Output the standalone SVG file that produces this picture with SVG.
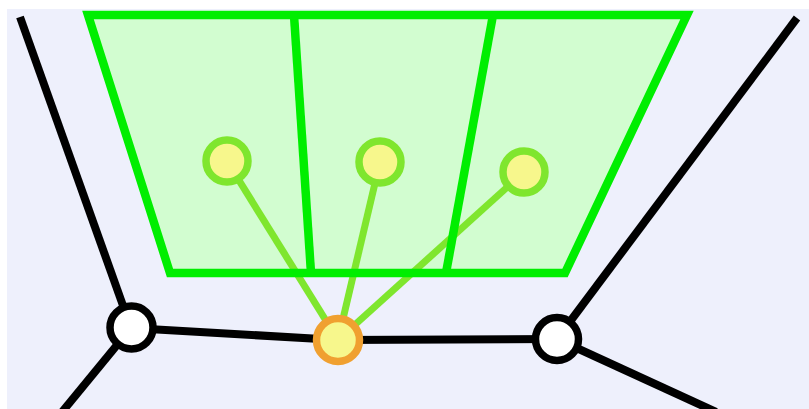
<svg xmlns="http://www.w3.org/2000/svg" width="809" height="409" viewBox="0 0 809 409">
  <style>
    .edge { stroke: #000; stroke-width: 8; fill: none; }
    .spoke { stroke: #7fe62e; stroke-width: 7; fill: none; }
    .zone { stroke: #00ee00; stroke-width: 8.5; fill: none; stroke-linejoin: miter; }
    .zone-fill { fill: #d2fdd0; stroke: none; }
    .hub { fill: #fff; stroke: #000; stroke-width: 7.5; }
    .leaf { fill: #f7f78c; stroke: #7fe62e; stroke-width: 7.5; }
    .root { fill: #f7f78c; stroke: #f0a030; stroke-width: 7.5; }
  </style>
  <rect x="0" y="0" width="809" height="409" fill="#ffffff"/>
  <rect x="7" y="9" width="802" height="400" fill="#eef0fc"/>

  <!-- shaded region -->
  <polygon class="zone-fill" points="88,15 687,15 565,273 170,273"/>

  <g id="connectors">
    <line class="edge" x1="20" y1="17" x2="131" y2="328"/>
    <line class="edge" x1="131" y1="328" x2="62" y2="412"/>
    <line class="edge" x1="131" y1="328" x2="338" y2="340"/>
    <line class="edge" x1="338" y1="340" x2="557" y2="339"/>
    <line class="edge" x1="797" y1="18" x2="557" y2="339"/>
    <line class="edge" x1="557" y1="339" x2="716" y2="412"/>
    <line class="spoke" x1="227" y1="161" x2="338" y2="340"/>
    <line class="spoke" x1="380" y1="162" x2="338" y2="340"/>
    <line class="spoke" x1="524" y1="172" x2="338" y2="340"/>
  </g>

  <!-- region outline and dividers -->
  <g id="region">
    <polygon class="zone" points="88,15 687,15 565,273 170,273"/>
    <line class="zone" x1="294" y1="15" x2="311" y2="273"/>
    <line class="zone" x1="493" y1="15" x2="446" y2="273"/>
  </g>

  <g id="hub-left"><circle class="hub" cx="131.5" cy="327.5" r="21.5"/></g>
  <g id="hub-right"><circle class="hub" cx="557" cy="339" r="21.5"/></g>
  <g id="root"><circle class="root" cx="338" cy="340" r="21.5"/></g>
  <g id="leaf-1"><circle class="leaf" cx="227" cy="161" r="21"/></g>
  <g id="leaf-2"><circle class="leaf" cx="380" cy="162" r="21"/></g>
  <g id="leaf-3"><circle class="leaf" cx="524" cy="172" r="21"/></g>
</svg>
